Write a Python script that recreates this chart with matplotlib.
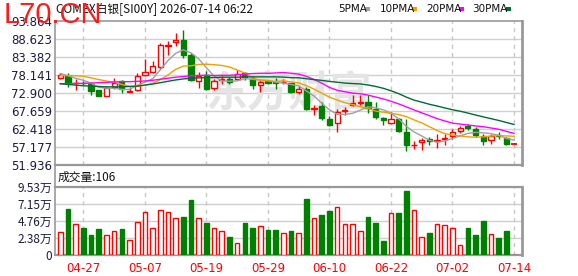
import numpy as np
import matplotlib
matplotlib.use("Agg")
import matplotlib.pyplot as plt
from matplotlib.patches import Rectangle
from matplotlib.lines import Line2D

CJK = ['Noto Sans CJK SC', 'DejaVu Sans']

# ---- data, price in USD, volume in 万 ----
opens = [77.3, 77.8, 75.8, 75.9, 75.4, 73.65, 71.99, 74.72, 76.35, 73.3,
         73.65, 78.08, 79.07, 80.5, 86.6, 87.75, 88.42, 84.07, 76.35, 78.28,
         74.23, 76.7, 77.04, 77.04, 78.58, 77.04, 75.2, 76.35, 76.0, 76.0,
         75.68, 73.27, 74.14, 68.2, 69.1, 65.25, 64.09, 67.7, 69.31, 70.1,
         70.27, 68.15, 65.74, 64.3, 65.25, 61.69, 57.7, 58.5, 59.46, 58.9,
         59.4, 60.24, 61.86, 63.31, 62.56, 60.24, 59.26, 60.7, 59.66, 58.15]
highs = [78.8, 78.6, 77.0, 76.3, 75.9, 73.9, 74.6, 77.2, 76.8, 74.6,
         78.6, 82.8, 82.2, 87.4, 87.9, 90.36, 91.3, 84.6, 78.9, 79.2,
         76.9, 77.8, 77.6, 79.6, 78.9, 77.8, 76.9, 76.6, 77.2, 77.0,
         75.9, 74.8, 74.6, 69.3, 70.4, 66.2, 68.1, 68.9, 72.4, 72.4,
         72.4, 70.2, 66.0, 67.3, 65.5, 65.25, 59.0, 59.9, 60.2, 60.9,
         61.1, 62.5, 63.4, 63.9, 63.0, 61.0, 61.0, 61.6, 60.0, 58.2]
lows = [77.1, 74.7, 73.9, 75.2, 72.3, 71.9, 71.9, 74.0, 73.0, 73.3,
        73.5, 77.9, 78.8, 79.9, 84.1, 86.48, 83.2, 76.3, 74.5, 73.9,
        73.9, 75.6, 75.4, 76.8, 76.7, 74.2, 73.1, 75.5, 74.0, 75.4,
        72.9, 72.7, 67.9, 66.4, 64.9, 63.3, 61.6, 66.5, 69.0, 69.3,
        67.2, 65.2, 63.6, 63.9, 61.4, 56.07, 56.7, 56.4, 57.8, 56.9,
        57.8, 59.6, 61.3, 62.1, 60.2, 57.8, 58.1, 59.6, 57.8, 58.15]
closes = [78.0, 75.7, 75.95, 75.7, 73.45, 71.99, 74.43, 75.88, 73.94, 73.5,
          77.8, 79.07, 80.89, 86.97, 86.9, 88.4, 84.07, 76.63, 77.99, 74.14,
          76.35, 77.0, 76.17, 78.48, 77.62, 75.1, 76.06, 75.7, 75.8, 76.2,
          73.16, 74.14, 68.15, 68.4, 65.74, 63.6, 67.48, 68.0, 70.09, 70.27,
          68.64, 66.03, 64.96, 65.25, 61.86, 57.81, 57.9, 59.17, 58.97, 59.1,
          59.7, 61.4, 62.85, 62.65, 60.62, 58.97, 60.24, 60.5, 58.0, 58.2]
volume = [3.25, 6.42, 4.32, 3.77, 2.79, 3.63, 2.74, 3.35, 3.63, 2.09,
          4.60, 6.0, 3.77, 6.28, 6.09, 5.25, 5.30, 7.67, 5.25, 4.46,
          3.72, 3.30, 2.51, 1.63, 4.46, 3.77, 4.0, 3.49, 3.49, 3.07,
          3.35, 3.07, 7.81, 5.25, 5.63, 6.14, 6.79, 4.32, 4.32, 3.35,
          5.30, 4.46, 1.95, 5.95, 5.86, 8.93, 6.37, 2.46, 3.07, 4.28,
          4.14, 3.72, 1.35, 3.77, 2.79, 4.74, 2.88, 2.37, 3.35, 0.0106]
ma5 = [78.6, 77.9, 77.2, 76.6, 75.76, 74.56, 74.30, 74.29, 73.94, 73.95,
       75.11, 76.04, 77.04, 79.65, 82.33, 84.45, 85.45, 84.59, 82.80, 80.25,
       77.84, 76.42, 76.33, 76.43, 77.12, 76.87, 76.69, 76.59, 76.06, 75.77,
       75.38, 75.0, 73.49, 72.01, 69.92, 68.01, 66.67, 66.64, 66.98, 67.89,
       68.90, 68.61, 68.0, 67.03, 65.35, 63.18, 61.56, 60.40, 59.14, 58.59,
       58.97, 59.67, 60.40, 61.14, 61.44, 61.30, 61.07, 60.60, 59.67, 59.18]
ma10 = [78.0, 78.0, 77.9, 77.8, 77.3, 76.8, 76.4, 76.0, 75.4, 74.85,
        74.83, 75.17, 75.67, 76.79, 78.14, 79.78, 80.74, 80.82, 81.22, 81.29,
        81.14, 80.93, 80.46, 79.61, 78.69, 77.36, 76.55, 76.46, 76.24, 76.45,
        76.13, 75.84, 75.04, 74.03, 72.85, 71.70, 70.84, 70.07, 69.50, 68.90,
        68.45, 67.64, 67.32, 67.01, 66.62, 66.04, 65.08, 64.20, 63.09, 61.97,
        61.08, 60.61, 60.40, 60.14, 60.02, 60.13, 60.37, 60.50, 60.40, 60.31]
ma20 = [75.6, 75.6, 75.7, 75.7, 75.8, 75.9, 76.0, 76.1, 76.2, 76.2,
        76.3, 76.4, 76.6, 76.9, 77.2, 77.5, 77.7, 77.9, 78.0, 78.07,
        77.99, 78.05, 78.06, 78.2, 78.41, 78.57, 78.65, 78.64, 78.73, 78.87,
        78.64, 78.39, 77.75, 76.82, 75.77, 74.53, 73.70, 73.26, 72.87, 72.68,
        72.29, 71.74, 71.18, 70.52, 69.73, 68.87, 67.96, 67.13, 66.29, 65.44,
        64.76, 64.13, 63.86, 63.57, 63.32, 63.09, 62.72, 62.35, 61.74, 61.14]
ma30 = [75.6, 75.4, 75.2, 75.0, 74.9, 74.8, 74.7, 74.7, 74.7, 74.8,
        74.9, 75.2, 75.5, 75.9, 76.3, 76.7, 77.0, 77.2, 77.3, 77.4,
        77.4, 77.5, 77.5, 77.5, 77.6, 77.6, 77.6, 77.6, 77.6, 77.53,
        77.37, 77.32, 77.06, 76.81, 76.56, 76.28, 76.04, 75.78, 75.65, 75.55,
        75.24, 74.81, 74.27, 73.55, 72.72, 71.70, 70.82, 70.24, 69.61, 69.11,
        68.55, 68.03, 67.59, 67.06, 66.49, 65.96, 65.43, 64.92, 64.33, 63.73]

price_ticks = [51.936, 57.177, 62.418, 67.659, 72.900, 78.141, 83.382, 88.623, 93.864]
vol_ticks = [0, 2.38, 4.76, 7.15, 9.53]
vol_labels = ['0', '2.38万', '4.76万', '7.15万', '9.53万']
date_pos = [3, 11, 19, 27, 35, 43, 51, 59]
date_labels = ['04-27', '05-07', '05-19', '05-29', '06-10', '06-22', '07-02', '07-14']

RED = '#ff0000'
GREEN = '#008000'
GRID = '#d0d0d0'
BORDER = '#999999'
LABEL = '#1c1c40'
ma_cols = ['#a0a0a0', '#f0a000', '#ff00ff', '#006c35']

W, H = 578, 276
fig = plt.figure(figsize=(W / 100, H / 100), dpi=100)
fig.patch.set_facecolor('white')

x = np.arange(len(closes))
xlim = (-0.69, 60.04)

# ---- price panel ----
ax = fig.add_axes([55 / W, 1 - 165 / H, 467 / W, 144 / H])
ax.set_xlim(*xlim)
ax.set_ylim(price_ticks[0], price_ticks[-1])
ax.set_yticks(price_ticks)
ax.set_yticklabels(['%.3f' % v for v in price_ticks])
ax.set_xticks([])
ax.tick_params(axis='y', length=0, labelsize=8.5, labelcolor=LABEL, pad=2)
for v in price_ticks[1:-1]:
    ax.axhline(v, color=GRID, lw=1, zorder=0.5)
for p in date_pos:
    ax.axvline(p, color='#c8c8c8', lw=1, ls=(0, (3, 3)), zorder=0.5)
for s in ax.spines.values():
    s.set_color(BORDER)
    s.set_linewidth(1.2)
ax.spines['right'].set_linewidth(2)
ax.spines['bottom'].set_linewidth(1.6)

# faint site watermark in the price area
ax.text(0.50, 0.50, '东方财富', transform=ax.transAxes, fontsize=30,
        fontweight='bold', style='italic', color='#e4e4e4', ha='center',
        va='center', family=CJK, zorder=0.6)

for i in range(len(closes)):
    o, c = opens[i], closes[i]
    up = c >= o
    col = RED if up else GREEN
    ax.vlines(x[i], lows[i], highs[i], color=col, lw=1, zorder=2)
    if abs(c - o) < 0.15:
        ax.hlines((o + c) / 2, x[i] - 0.36, x[i] + 0.36, color=col, lw=1.3, zorder=3)
    else:
        ax.bar(x[i], abs(c - o), 0.68, bottom=min(o, c),
               facecolor='white' if up else GREEN, edgecolor=col, lw=1, zorder=3)

for ma, col in zip([ma5, ma10, ma20, ma30], ma_cols):
    ax.plot(x, ma, color=col, lw=1, zorder=4)

# ---- volume panel ----
ax2 = fig.add_axes([55 / W, 1 - 255 / H, 467 / W, 68 / H])
ax2.set_xlim(*xlim)
ax2.set_ylim(0, 9.53)
ax2.set_yticks(vol_ticks)
ax2.set_yticklabels(vol_labels, family=CJK)
ax2.set_xticks(date_pos)
ax2.set_xticklabels(date_labels)
ax2.tick_params(axis='y', length=0, labelsize=8.5, labelcolor=LABEL, pad=2)
ax2.tick_params(axis='x', length=0, labelsize=8.5, labelcolor=RED, pad=5)
for v in vol_ticks[1:-1]:
    ax2.axhline(v, color=GRID, lw=1, zorder=0.5)
for p in date_pos:
    ax2.axvline(p, color='#c8c8c8', lw=1, ls=(0, (3, 3)), zorder=0.5)
for s in ax2.spines.values():
    s.set_color(BORDER)
    s.set_linewidth(1.2)
ax2.spines['right'].set_linewidth(2)
ax2.spines['bottom'].set_linewidth(1.6)
ax2.spines['top'].set_linewidth(1.6)

for i in range(len(volume)):
    up = closes[i] >= opens[i]
    if up:
        ax2.bar(x[i], volume[i], 0.6, facecolor='white', edgecolor=RED, lw=1, zorder=3)
    else:
        ax2.bar(x[i], volume[i], 0.6, facecolor=GREEN, edgecolor=GREEN, lw=1, zorder=3)

# left border joining the two panels
fig.add_artist(Line2D([55 / W, 55 / W], [1 - 187 / H, 1 - 165 / H],
                      color=BORDER, lw=1.2, transform=fig.transFigure))

# ---- header texts ----
fig.text(56 / W, 1 - 9 / H, 'COMEX白银[SI00Y] 2026-07-14 06:22', fontsize=8.5,
         family=CJK, color='#111111', va='center')
fig.text(58 / W, 1 - 177 / H, '成交量:106', fontsize=8.5, family=CJK,
         color='#111111', va='center')

leg_names = ['5PMA', '10PMA', '20PMA', '30PMA']
leg_x = [338, 380, 426, 472]
sq_x = [365, 412, 459, 506]
for name, lx, sx, col in zip(leg_names, leg_x, sq_x, ma_cols):
    fig.text(lx / W, 1 - 9 / H, name, fontsize=7.5, color='#111111', va='center')
    fig.add_artist(Rectangle((sx / W, 1 - 10.5 / H), 5 / W, 3 / H,
                             facecolor=col, edgecolor='none', transform=fig.transFigure))

# red watermark at top left (overlaps the title, as in the source)
fig.text(4 / W, 1 - 15 / H, 'L70.CN', fontsize=21, color='#ff1a1a',
         family='Liberation Sans', va='center', zorder=10)

fig.savefig('out.png', dpi=100)
